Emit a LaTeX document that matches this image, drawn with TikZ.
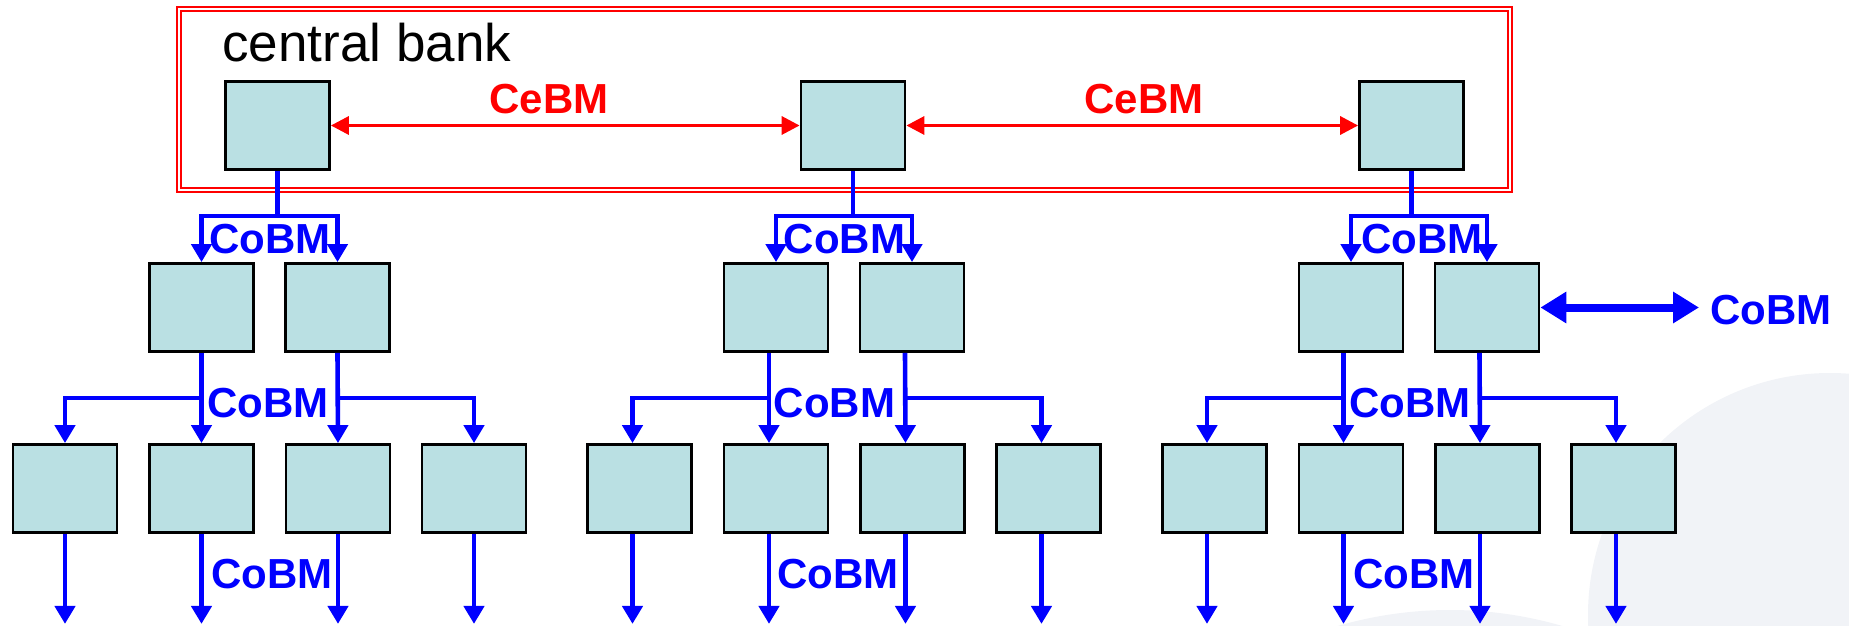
\documentclass[tikz,border=0pt]{standalone}
\usepackage{fontspec}
\setmainfont{Liberation Sans}
\usetikzlibrary{arrows.meta}

\definecolor{bankfill}{RGB}{186,224,227}
\definecolor{slidegray}{RGB}{241,243,247}

\def\boxw{52pt}
\def\boxh{44pt}
\def\midy{307.5}
\def\boty{488.5}

\tikzset{
  bank/.style={draw=black, line width=1.4pt, fill=bankfill, minimum width=\boxw, minimum height=\boxh, inner sep=0pt},
  cobm/.style={text=blue, font=\fontsize{21}{25}\selectfont\bfseries, inner sep=0pt, anchor=base},
  cebm/.style={cobm, text=red},
  link/.style={draw=blue, line width=2.3pt},
  down/.style={link, -{Triangle[width=10pt,length=9pt]}},
  cebmlink/.style={draw=red, line width=1.7pt, {Triangle[width=9pt,length=9pt]}-{Triangle[width=9pt,length=9pt]}},
  outlink/.style={draw=blue, line width=4pt, {Triangle[width=15pt,length=13pt]}-{Triangle[width=15pt,length=13pt]}}
}

\begin{document}
\begin{tikzpicture}[x=0.5pt, y=-0.5pt]
  \useasboundingbox (0,0) rectangle (1849,626);

  % faint slide background
  \begin{scope}
    \clip (0,0) rectangle (1849,626);
    \fill[slidegray] (1830,615) circle[radius=121pt];
    \fill[slidegray] (1450,1010) circle[radius=200pt];
  \end{scope}

  % central bank frame
  \draw[red, line width=1pt, double=white, double distance=1pt] (179,9) rectangle (1510,190);
  \node[anchor=base west, inner sep=0pt, font=\fontsize{26.5}{30}\selectfont] (cbank) at (222,62) {central bank};

  \node[bank] (t1) at (277.5,125.5) {};
  \node[bank] (t2) at (853,125.5) {};
  \node[bank] (t3) at (1411.5,125.5) {};

  \draw[cebmlink] (t1.east) -- (t2.west);
  \draw[cebmlink] (t2.east) -- (t3.west);
  \node[cebm] (ce1) at (549,114) {CeBM};
  \node[cebm] (ce2) at (1144,114) {CeBM};

  \foreach \g/\gx/\sh/\la/\lb/\lc in {1/0/0/270/268/272, 2/574.5/-7/844.5/834.5/838, 3/1149.5/-7.5/1422/1410/1414}{
    \pgfmathparse{\sh/2}
    \let\shp\pgfmathresult

    \node[bank] (m\g1) at (\gx+201.5,\midy) {};
    \node[bank] (m\g2) at (\gx+337.5,\midy) {};
    \foreach \i/\bx in {1/65, 2/201.5, 3/338, 4/474}
      \node[bank] (b\g\i) at (\gx+\bx,\boty) {};

    % from the central bank down
    \path (t\g.south) ++(0,45) coordinate (j\g);
    \draw[link] (t\g.south) -- (j\g);
    \draw[down] (j\g) -| (m\g1.north);
    \draw[down] (j\g) -| (m\g2.north);
    \node[cobm] (lab\g1) at (\la,254) {CoBM};

    % down to the regional banks
    \draw[down] ([xshift=\shp pt]m\g1.south) -- ([xshift=\shp pt]b\g2.north);
    \draw[down] ([xshift=\shp pt]m\g2.south) -- ([xshift=\shp pt]b\g3.north);
    \draw[down] ([xshift=\shp pt]m\g1.south) ++(0,45) -| ([xshift=\shp pt]b\g1.north);
    \draw[down] ([xshift=\shp pt]m\g2.south) ++(0,45) -| ([xshift=\shp pt]b\g4.north);
    \node[cobm] (lab\g2) at (\lb,417) {CoBM};

    % leaving the picture
    \foreach \i in {1,...,4}{
      \path ([xshift=\shp pt]b\g\i.south) ++(0,90) coordinate (e\g\i);
      \draw[down] ([xshift=\shp pt]b\g\i.south) -- (e\g\i);
    }
    \node[cobm] (lab\g3) at (\lc,588) {CoBM};
  }

  \node[cobm, anchor=west] (cobmr) at (1710,310) {CoBM};
  \draw[outlink, shorten >=5.5pt] (m32.east) -- (cobmr.west |- m32.east);

\end{tikzpicture}
\end{document}
